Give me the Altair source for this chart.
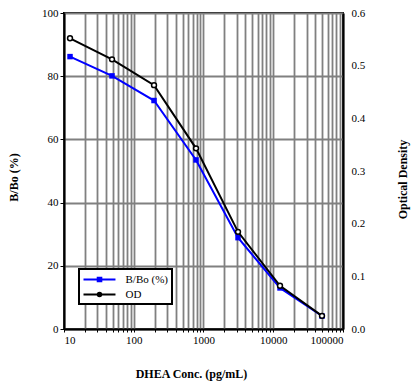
import altair as alt
import pandas as pd

conc = [12.2, 48.8, 195.3, 781.25, 3125, 12500, 50000]
bbo = [86.2, 80.1, 72.3, 53.5, 28.9, 13.0, 4.1]
od = [0.552, 0.512, 0.463, 0.343, 0.1845, 0.082, 0.025]
series = ["B/Bo (%)", "OD"]
colors = ["#0000ff", "#000000"]
x_ticks = [m * 10 ** e for e in range(1, 5) for m in range(1, 10)] + [100000]
left_ticks = [0, 20, 40, 60, 80, 100]
right_ticks = [0, 0.1, 0.2, 0.3, 0.4, 0.5, 0.6]

df_b = pd.DataFrame({"conc": conc, "value": bbo, "series": series[0]})
df_o = pd.DataFrame({"conc": conc, "value": od, "series": series[1]})

FONT = "Liberation Serif"

line_path = "M-1,0H4.33"
sq_path = line_path + "M1.37,-0.3H1.97V0.3H1.37Z"
circ_path = line_path + "M1.97,0A0.3,0.3,0,1,1,1.37,0A0.3,0.3,0,1,1,1.97,0Z"

xscale = alt.Scale(type="log", domain=[10, 100000], nice=False)

x_enc = alt.X(
    "conc:Q",
    scale=xscale,
    axis=alt.Axis(
        title="DHEA Conc. (pg/mL)", values=x_ticks, labelOverlap=False,
        labelExpr="indexof([10,100,1000,10000,100000], datum.value) >= 0 ? '' + datum.value : ''",
        tickSize=3, tickColor="black", labelPadding=2, labelFont=FONT,
        titleX=127, titleY=39, titleBaseline="top", titleAnchor="middle", titleAlign="center",
    ),
)
y_left = alt.Y(
    "value:Q", scale=alt.Scale(domain=[0, 100], nice=False),
    axis=alt.Axis(
        title="B/Bo (%)", values=left_ticks, orient="left", labelFont=FONT,
        tickSize=4, tickColor="black", labelPadding=2,
        titleX=-51, titleY=164, titleBaseline="middle", titleAngle=270,
        titleAlign="center",
    ),
)

base_b = alt.Chart(df_b).encode(x=x_enc, y=y_left)

legend = alt.Legend(
    title=None, orient="none", legendX=15, legendY=256,
    labelFont=FONT, labelFontSize=11, labelColor="black",
    symbolSize=144, symbolStrokeWidth=2, labelOffset=29,
    padding=3.5, rowPadding=2, strokeColor="black", fillColor="white",
)
hidden = alt.Chart(df_b).mark_point(opacity=1, strokeWidth=2, size=0).encode(
    x=alt.X("conc:Q", scale=xscale), y=alt.Y("value:Q"),
    shape=alt.Shape("series:N", scale=alt.Scale(domain=series, range=[sq_path, circ_path]), legend=legend),
    fill=alt.Fill("series:N", scale=alt.Scale(domain=series, range=["#0000ff", "white"]), legend=legend),
    stroke=alt.Stroke("series:N", scale=alt.Scale(domain=series, range=colors), legend=legend),
)

layer_b = alt.layer(
    base_b.mark_line(strokeWidth=2, color=colors[0]),
    base_b.mark_point(shape="square", filled=True, size=30, opacity=1, color=colors[0]),
    hidden,
)

base_o = alt.Chart(df_o).encode(
    x=alt.X("conc:Q", scale=xscale),
    y=alt.Y(
        "value:Q", scale=alt.Scale(domain=[0, 0.6], nice=False),
        axis=alt.Axis(
            title="Optical Density", values=right_ticks, orient="right", format=".1f",
            grid=False, ticks=False, labelPadding=8, labelFont=FONT,
            titleX=59, titleY=166, titleBaseline="middle", titleAngle=270,
            titleAlign="center",
        ),
    ),
)
layer_o = alt.layer(
    base_o.mark_line(strokeWidth=2, color=colors[1]),
    base_o.mark_point(shape="circle", filled=True, fill="white", stroke="black",
                      strokeWidth=1.5, size=24, opacity=1),
)

chart = alt.layer(layer_b, layer_o).resolve_scale(y="independent").properties(
    width=279, height=316, autosize="none",
    padding={"left": 56, "top": 5, "right": 68, "bottom": 52},
).configure_axis(
    labelFont=FONT, labelFontSize=11, labelColor="black",
    titleFont=FONT, titleFontSize=12, titleFontWeight="bold", titleColor="black",
    domainColor="black", domainWidth=2,
    gridColor="#808080", gridWidth=1.8, gridOpacity=1,
).configure_legend(strokeWidth=2).configure_view(stroke="black", strokeWidth=2)

chart.save("out.html", embed_options={"renderer": "svg", "actions": False})
